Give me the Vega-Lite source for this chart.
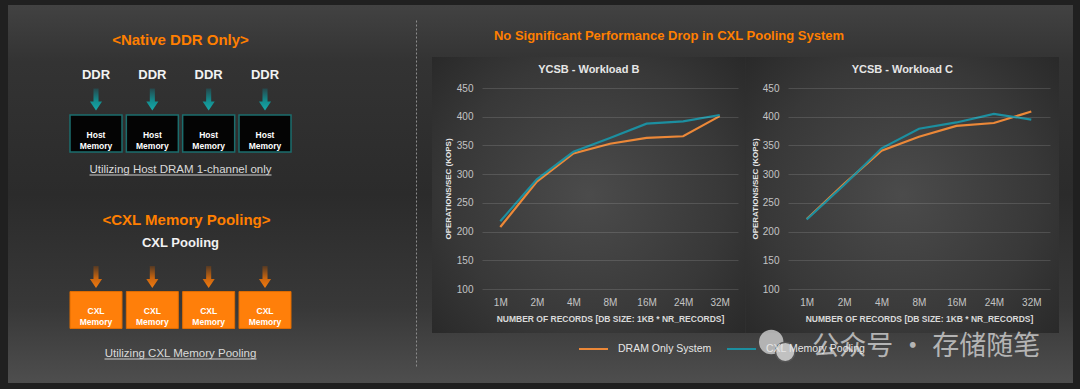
{
  "$schema": "https://vega.github.io/schema/vega-lite/v6.json",
  "width": 1080,
  "height": 389,
  "autosize": {"type": "fit", "contains": "padding"},
  "padding": 0,
  "background": "#202020",
  "config": {"view": {"stroke": null}, "font": "Liberation Sans"},
  "title": {
    "text": "No Significant Performance Drop in CXL Pooling System",
    "font": "Liberation Sans",
    "fontSize": 13,
    "fontWeight": "bold",
    "color": "#FF7F00",
    "anchor": "middle",
    "frame": "group",
    "baseline": "middle",
    "offset": 0,
    "dx": 129,
    "dy": 49
  },
  "datasets": {
    "slide": [{"deck": "CXL Memory Pooling"}],
    "panels": [
      {"chart": "YCSB - Workload B", "suite": "YCSB"},
      {"chart": "YCSB - Workload C", "suite": "YCSB"}
    ],
    "diagram": [
      {"section": "Native DDR Only", "slot": 1, "source": "DDR", "target": "Host Memory"},
      {"section": "Native DDR Only", "slot": 2, "source": "DDR", "target": "Host Memory"},
      {"section": "Native DDR Only", "slot": 3, "source": "DDR", "target": "Host Memory"},
      {"section": "Native DDR Only", "slot": 4, "source": "DDR", "target": "Host Memory"},
      {"section": "CXL Memory Pooling", "slot": 1, "source": "CXL Pooling", "target": "CXL Memory"},
      {"section": "CXL Memory Pooling", "slot": 2, "source": "CXL Pooling", "target": "CXL Memory"},
      {"section": "CXL Memory Pooling", "slot": 3, "source": "CXL Pooling", "target": "CXL Memory"},
      {"section": "CXL Memory Pooling", "slot": 4, "source": "CXL Pooling", "target": "CXL Memory"}
    ],
    "sections": [
      {"section": "Native DDR Only", "heading": "<Native DDR Only>", "caption": "Utilizing Host DRAM 1-channel only"},
      {"section": "CXL Memory Pooling", "heading": "<CXL Memory Pooling>", "subheading": "CXL Pooling", "caption": "Utilizing CXL Memory Pooling"}
    ],
    "watermark": [
      {"part": "bubble", "account": "公众号 · 存储随笔"},
      {"part": "reply", "account": "公众号 · 存储随笔"}
    ],
    "results": [
      {"workload": "B", "records": "1M", "system": "DRAM Only System", "kops": 208},
      {"workload": "B", "records": "2M", "system": "DRAM Only System", "kops": 287},
      {"workload": "B", "records": "4M", "system": "DRAM Only System", "kops": 336},
      {"workload": "B", "records": "8M", "system": "DRAM Only System", "kops": 353},
      {"workload": "B", "records": "16M", "system": "DRAM Only System", "kops": 363},
      {"workload": "B", "records": "24M", "system": "DRAM Only System", "kops": 366},
      {"workload": "B", "records": "32M", "system": "DRAM Only System", "kops": 401},
      {"workload": "B", "records": "1M", "system": "CXL Memory Pooling", "kops": 218},
      {"workload": "B", "records": "2M", "system": "CXL Memory Pooling", "kops": 291},
      {"workload": "B", "records": "4M", "system": "CXL Memory Pooling", "kops": 339},
      {"workload": "B", "records": "8M", "system": "CXL Memory Pooling", "kops": 363},
      {"workload": "B", "records": "16M", "system": "CXL Memory Pooling", "kops": 388},
      {"workload": "B", "records": "24M", "system": "CXL Memory Pooling", "kops": 392},
      {"workload": "B", "records": "32M", "system": "CXL Memory Pooling", "kops": 403},
      {"workload": "C", "records": "1M", "system": "DRAM Only System", "kops": 222},
      {"workload": "C", "records": "2M", "system": "DRAM Only System", "kops": 283},
      {"workload": "C", "records": "4M", "system": "DRAM Only System", "kops": 341},
      {"workload": "C", "records": "8M", "system": "DRAM Only System", "kops": 365},
      {"workload": "C", "records": "16M", "system": "DRAM Only System", "kops": 384},
      {"workload": "C", "records": "24M", "system": "DRAM Only System", "kops": 389},
      {"workload": "C", "records": "32M", "system": "DRAM Only System", "kops": 409},
      {"workload": "C", "records": "1M", "system": "CXL Memory Pooling", "kops": 221},
      {"workload": "C", "records": "2M", "system": "CXL Memory Pooling", "kops": 281},
      {"workload": "C", "records": "4M", "system": "CXL Memory Pooling", "kops": 345},
      {"workload": "C", "records": "8M", "system": "CXL Memory Pooling", "kops": 379},
      {"workload": "C", "records": "16M", "system": "CXL Memory Pooling", "kops": 390},
      {"workload": "C", "records": "24M", "system": "CXL Memory Pooling", "kops": 405},
      {"workload": "C", "records": "32M", "system": "CXL Memory Pooling", "kops": 395}
    ]
  },
  "layer": [
    {
      "data": {"name": "slide"},
      "mark": {
        "type": "rect",
        "fill": {"gradient": "linear", "x1": 0, "y1": 0, "x2": 0, "y2": 1,
          "stops": [
            {"offset": 0, "color": "#424242"},
            {"offset": 0.15, "color": "#333333"},
            {"offset": 0.5, "color": "#2b2b2b"},
            {"offset": 0.8, "color": "#383838"},
            {"offset": 1, "color": "#4e4e4e"}
          ]}
      },
      "encoding": {
        "x": {"field": "deck", "type": "nominal", "scale": {"type": "band", "range": [8, 1073], "paddingInner": 0, "paddingOuter": 0}, "axis": null},
        "y": {"field": "deck", "type": "nominal", "scale": {"type": "band", "range": [5, 383], "paddingInner": 0, "paddingOuter": 0}, "axis": null}
      }
    },
    {
      "data": {"name": "diagram"},
      "encoding": {
        "x": {"field": "slot", "type": "quantitative", "scale": {"domain": [1, 4], "range": [96, 265], "zero": false, "nice": false}, "axis": null},
        "y": {"field": "section", "type": "nominal", "scale": {"type": "band", "domain": ["Native DDR Only", "CXL Memory Pooling"], "range": [20, 368], "paddingInner": 0, "paddingOuter": 0},
          "axis": {"orient": "right", "offset": -664, "zindex": 1, "domain": true, "domainDash": [2, 2], "domainColor": "#8c8c8c", "domainWidth": 1, "labels": false, "ticks": false, "grid": false, "title": null}}
      },
      "layer": [
        {
          "transform": [{"filter": "datum.section === 'Native DDR Only'"}],
          "mark": {"type": "text", "fontSize": 13, "fontWeight": "bold", "color": "#f2f2f2", "baseline": "middle", "dy": -32},
          "encoding": {"text": {"field": "source"}}
        },
        {
          "transform": [{"filter": "datum.section === 'Native DDR Only'"}],
          "mark": {"type": "point", "shape": "M-0.23,-1H0.23V0.18H0.55L0,1L-0.55,0.18H-0.23Z", "size": 484, "filled": true, "opacity": 1, "strokeWidth": 0, "yOffset": -7.5,
            "fill": {"gradient": "linear", "x1": 0, "y1": 0, "x2": 0, "y2": 1, "stops": [{"offset": 0, "color": "#26474b"}, {"offset": 0.55, "color": "#138a8c"}, {"offset": 1, "color": "#18a9a9"}]}}
        },
        {
          "transform": [{"filter": "datum.section === 'Native DDR Only'"}],
          "mark": {"type": "point", "shape": "M-1,-0.71H1V0.71H-1Z", "size": 2704, "filled": true, "opacity": 1, "fill": "#040404", "stroke": "#1b6d6d", "strokeWidth": 1.5, "yOffset": 26.5}
        },
        {
          "transform": [{"filter": "datum.section === 'Native DDR Only'"}],
          "mark": {"type": "text", "fontSize": 8.5, "fontWeight": "bold", "color": "#ffffff", "baseline": "middle", "lineBreak": " ", "lineHeight": 11, "dy": 27.5},
          "encoding": {"text": {"field": "target"}}
        },
        {
          "transform": [{"filter": "datum.section === 'CXL Memory Pooling'"}],
          "mark": {"type": "point", "shape": "M-0.23,-1H0.23V0.18H0.55L0,1L-0.55,0.18H-0.23Z", "size": 484, "filled": true, "opacity": 1, "strokeWidth": 0, "yOffset": -4,
            "fill": {"gradient": "linear", "x1": 0, "y1": 0, "x2": 0, "y2": 1, "stops": [{"offset": 0, "color": "#553a24"}, {"offset": 0.55, "color": "#c9650f"}, {"offset": 1, "color": "#f07a10"}]}}
        },
        {
          "transform": [{"filter": "datum.section === 'CXL Memory Pooling'"}],
          "mark": {"type": "point", "shape": "M-1,-0.71H1V0.71H-1Z", "size": 2704, "filled": true, "opacity": 1, "fill": "#FF7F0A", "stroke": "#e06c00", "strokeWidth": 1, "yOffset": 29}
        },
        {
          "transform": [{"filter": "datum.section === 'CXL Memory Pooling'"}],
          "mark": {"type": "text", "fontSize": 8.5, "fontWeight": "bold", "color": "#ffffff", "baseline": "middle", "lineBreak": " ", "lineHeight": 11, "dy": 30},
          "encoding": {"text": {"field": "target"}}
        },
        {
          "transform": [
            {"filter": "datum.section === 'Native DDR Only'"},
            {"aggregate": [{"op": "mean", "field": "slot", "as": "slot"}], "groupby": ["section"]},
            {"lookup": "section", "from": {"data": {"name": "sections"}, "key": "section", "fields": ["heading", "caption"]}}
          ],
          "layer": [
            {
              "mark": {"type": "text", "fontSize": 15, "fontWeight": "bold", "color": "#FF7F00", "baseline": "middle", "dy": -67},
              "encoding": {"text": {"field": "heading"}}
            },
            {
              "mark": {"type": "text", "fontSize": 11.5, "color": "#dadada", "baseline": "middle", "dy": 63},
              "encoding": {"text": {"field": "caption"}}
            }
          ]
        },
        {
          "transform": [
            {"filter": "datum.section === 'CXL Memory Pooling'"},
            {"aggregate": [{"op": "mean", "field": "slot", "as": "slot"}], "groupby": ["section"]},
            {"lookup": "section", "from": {"data": {"name": "sections"}, "key": "section", "fields": ["heading", "subheading", "caption"]}}
          ],
          "layer": [
            {
              "mark": {"type": "text", "fontSize": 15, "fontWeight": "bold", "color": "#FF7F00", "baseline": "middle", "dy": -61, "dx": 6},
              "encoding": {"text": {"field": "heading"}}
            },
            {
              "mark": {"type": "text", "fontSize": 13, "fontWeight": "bold", "color": "#f2f2f2", "baseline": "middle", "dy": -38},
              "encoding": {"text": {"field": "subheading"}}
            },
            {
              "mark": {"type": "text", "fontSize": 11.5, "color": "#dadada", "baseline": "middle", "dy": 73},
              "encoding": {"text": {"field": "caption"}}
            }
          ]
        },
        {
          "transform": [
            {"filter": "datum.section === 'Native DDR Only'"},
            {"aggregate": [{"op": "min", "field": "slot", "as": "first"}, {"op": "max", "field": "slot", "as": "last"}], "groupby": ["section"]}
          ],
          "mark": {"type": "rule", "color": "#d0d0d0", "strokeWidth": 1, "yOffset": 68, "xOffset": -6.5, "x2Offset": 6.5},
          "encoding": {"x": {"field": "first", "type": "quantitative"}, "x2": {"field": "last"}}
        },
        {
          "transform": [
            {"filter": "datum.section === 'CXL Memory Pooling'"},
            {"aggregate": [{"op": "min", "field": "slot", "as": "first"}, {"op": "max", "field": "slot", "as": "last"}], "groupby": ["section"]}
          ],
          "mark": {"type": "rule", "color": "#d0d0d0", "strokeWidth": 1, "yOffset": 78, "xOffset": 8.5, "x2Offset": -8.5},
          "encoding": {"x": {"field": "first", "type": "quantitative"}, "x2": {"field": "last"}}
        }
      ]
    },
    {
      "data": {"name": "panels"},
      "encoding": {
        "x": {"field": "chart", "type": "nominal", "scale": {"type": "band", "range": [432, 1059], "paddingInner": 0, "paddingOuter": 0}, "axis": null},
        "y": {"field": "suite", "type": "nominal", "scale": {"type": "band", "range": [57, 333], "paddingInner": 0, "paddingOuter": 0}, "axis": null}
      },
      "layer": [
        {
          "mark": {"type": "rect",
            "fill": {"gradient": "radial", "x1": 0.5, "y1": 0.5, "x2": 0.5, "y2": 0.5, "r1": 0, "r2": 0.72,
              "stops": [{"offset": 0, "color": "#4b4b4b"}, {"offset": 0.6, "color": "#383838"}, {"offset": 1, "color": "#262626"}]}}
        },
        {
          "mark": {"type": "text", "fontSize": 11, "fontWeight": "bold", "color": "#e6e6e6", "baseline": "middle", "dy": 13},
          "encoding": {"y": {"field": "suite", "type": "nominal", "bandPosition": 0}, "text": {"field": "chart"}}
        },
        {
          "data": {"name": "watermark"},
          "transform": [{"filter": "datum.part === 'bubble'"}],
          "mark": {"type": "point", "shape": "circle", "size": 600, "filled": true, "fill": "#cfcfcf", "opacity": 0.8, "strokeWidth": 0, "xOffset": -131, "yOffset": 9},
          "encoding": {
            "x": {"datum": "YCSB - Workload C", "type": "nominal"},
            "y": {"datum": "YCSB", "type": "nominal", "bandPosition": 1}
          }
        },
        {
          "data": {"name": "watermark"},
          "transform": [{"filter": "datum.part === 'reply'"}],
          "mark": {"type": "point", "shape": "circle", "size": 380, "filled": true, "fill": "#cfcfcf", "opacity": 0.9, "stroke": "#555555", "strokeWidth": 1.5, "xOffset": -117, "yOffset": 19},
          "encoding": {
            "x": {"datum": "YCSB - Workload C", "type": "nominal"},
            "y": {"datum": "YCSB", "type": "nominal", "bandPosition": 1}
          }
        },
        {
          "data": {"name": "watermark"},
          "transform": [{"filter": "datum.part === 'bubble'"}],
          "mark": {"type": "text", "font": "Noto Sans CJK SC", "fontSize": 27, "color": "#c8c8c8", "opacity": 0.85, "baseline": "middle", "dx": 24, "dy": 14},
          "encoding": {
            "x": {"datum": "YCSB - Workload C", "type": "nominal"},
            "y": {"datum": "YCSB", "type": "nominal", "bandPosition": 1},
            "text": {"field": "account"}
          }
        }
      ]
    },
    {
      "data": {"name": "results"},
      "transform": [{"filter": "datum.workload === 'B'"}],
      "mark": {"type": "line", "strokeWidth": 2.2},
      "encoding": {
        "x": {"field": "records", "type": "ordinal", "sort": ["1M", "2M", "4M", "8M", "16M", "24M", "32M"],
          "scale": {"type": "point", "range": [482, 738], "padding": 0.5},
          "axis": {"orient": "bottom", "offset": -99, "zindex": 1, "domain": false, "ticks": false, "grid": false, "labelAngle": 0, "labelColor": "#c4c4c4", "labelFontSize": 10, "labelPadding": 7,
            "title": "NUMBER OF RECORDS [DB SIZE: 1KB * NR_RECORDS]", "titleColor": "#d9d9d9", "titleFontSize": 8.5, "titleFontWeight": "bold", "titleY": 28, "titleBaseline": "middle"}},
        "y": {"field": "kops", "type": "quantitative",
          "scale": {"domain": [100, 450], "range": [289, 88], "zero": false, "nice": false},
          "axis": {"orient": "left", "offset": -482, "zindex": 1, "domain": false, "ticks": false, "grid": true, "gridColor": "#ffffff", "gridOpacity": 0.13, "gridWidth": 1, "values": [100, 150, 200, 250, 300, 350, 400, 450],
            "labelColor": "#c4c4c4", "labelFontSize": 10, "labelPadding": 9,
            "title": "OPERATIONS/SEC (KOPS)", "titleColor": "#e6e6e6", "titleFontSize": 8, "titleFontWeight": "bold", "titleX": -34, "titleBaseline": "middle"}},
        "color": {"field": "system", "type": "nominal",
          "scale": {"domain": ["DRAM Only System", "CXL Memory Pooling"], "range": ["#EC8838", "#1C8FA0"]},
          "legend": {"orient": "none", "legendX": 578, "legendY": 333.5, "direction": "horizontal", "title": null, "symbolType": "stroke", "symbolSize": 841, "symbolStrokeWidth": 2,
            "labelColor": "#e6e6e6", "labelFontSize": 10.5, "columnPadding": 11, "labelOffset": 9, "padding": 0, "zindex": 1}}
      }
    },
    {
      "data": {"name": "results"},
      "transform": [{"filter": "datum.workload === 'C'"}],
      "mark": {"type": "line", "strokeWidth": 2.2},
      "encoding": {
        "x": {"field": "records", "type": "ordinal", "sort": ["1M", "2M", "4M", "8M", "16M", "24M", "32M"],
          "scale": {"type": "point", "range": [788, 1050], "padding": 0.5},
          "axis": {"orient": "bottom", "offset": -99, "zindex": 1, "domain": false, "ticks": false, "grid": false, "labelAngle": 0, "labelColor": "#c4c4c4", "labelFontSize": 10, "labelPadding": 7,
            "title": "NUMBER OF RECORDS [DB SIZE: 1KB * NR_RECORDS]", "titleColor": "#d9d9d9", "titleFontSize": 8.5, "titleFontWeight": "bold", "titleY": 28, "titleBaseline": "middle"}},
        "y": {"field": "kops", "type": "quantitative",
          "scale": {"domain": [100, 450], "range": [289, 88], "zero": false, "nice": false},
          "axis": {"orient": "left", "offset": -788, "zindex": 1, "domain": false, "ticks": false, "grid": true, "gridColor": "#ffffff", "gridOpacity": 0.13, "gridWidth": 1, "values": [100, 150, 200, 250, 300, 350, 400, 450],
            "labelColor": "#c4c4c4", "labelFontSize": 10, "labelPadding": 9,
            "title": "OPERATIONS/SEC (KOPS)", "titleColor": "#e6e6e6", "titleFontSize": 8, "titleFontWeight": "bold", "titleX": -33, "titleBaseline": "middle"}},
        "color": {"field": "system", "type": "nominal",
          "scale": {"domain": ["DRAM Only System", "CXL Memory Pooling"], "range": ["#EC8838", "#1C8FA0"]},
          "legend": {"orient": "none", "legendX": 578, "legendY": 333.5, "direction": "horizontal", "title": null, "symbolType": "stroke", "symbolSize": 841, "symbolStrokeWidth": 2,
            "labelColor": "#e6e6e6", "labelFontSize": 10.5, "columnPadding": 11, "labelOffset": 9, "padding": 0, "zindex": 1}}
      }
    }
  ],
  "resolve": {"scale": {"x": "independent", "y": "independent"}}
}
